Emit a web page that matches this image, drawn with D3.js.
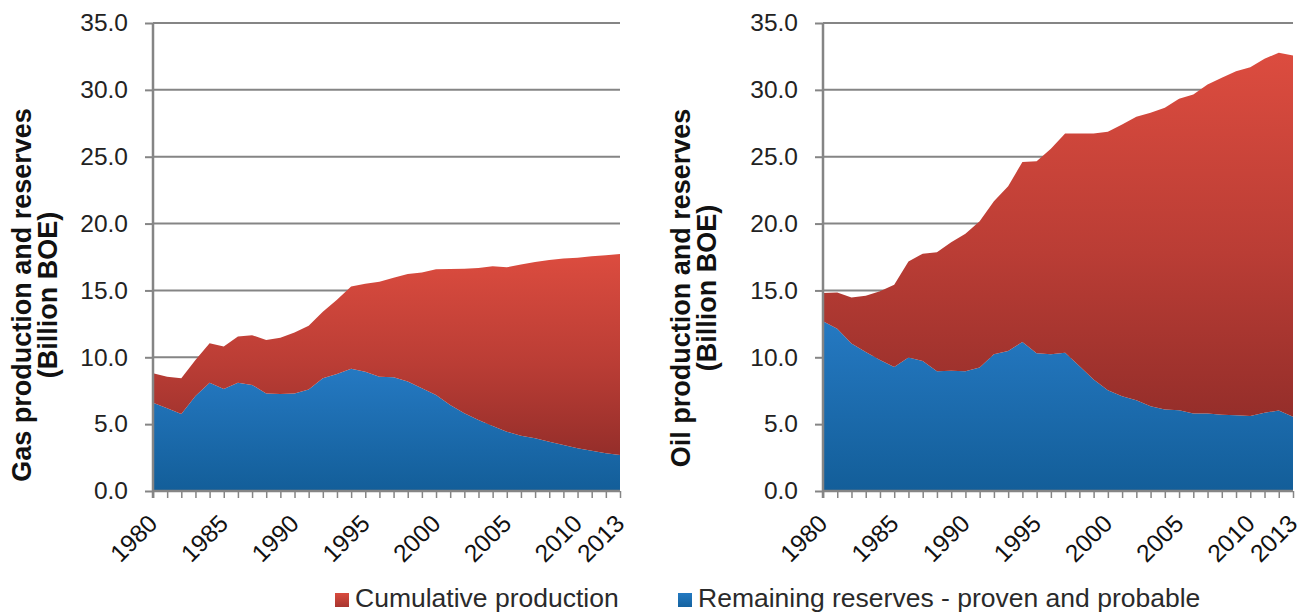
<!DOCTYPE html>
<html>
<head>
<meta charset="utf-8">
<script src="https://cdn.jsdelivr.net/npm/d3@7"></script>
<style>
  html, body { margin: 0; padding: 0; background: #fff; }
  svg { display: block; font-family: "Liberation Sans", Arial, sans-serif; }
</style>
</head>
<body>
<svg id="chart" width="1302" height="616"></svg>
<script>
// ---------- data ----------
const years = [1980,1981,1982,1983,1984,1985,1986,1987,1988,1989,1990,1991,1992,1993,1994,1995,1996,
               1997,1998,1999,2000,2001,2002,2003,2004,2005,2006,2007,2008,2009,2010,2011,2012,2013];
const yearLabels = [1980,1985,1990,1995,2000,2005,2010,2013];
const yTicks = [0,5,10,15,20,25,30,35];
const seriesNames = ["Remaining reserves - proven and probable", "Cumulative production"];
const legendOrder = ["Cumulative production", "Remaining reserves - proven and probable"];

const gasReserves = [6.60,6.18,5.76,7.10,8.10,7.63,8.10,7.93,7.30,7.25,7.30,7.60,8.43,8.75,9.15,8.92,8.55,
                     8.50,8.18,7.68,7.18,6.43,5.81,5.31,4.86,4.44,4.14,3.94,3.69,3.44,3.19,3.01,2.82,2.69];
const gasCumulative = [2.20,2.37,2.67,2.70,2.95,3.17,3.45,3.72,4.00,4.22,4.55,4.75,4.97,5.55,6.15,6.58,7.10,
                       7.45,8.05,8.67,9.40,10.17,10.82,11.37,11.94,12.29,12.79,13.19,13.59,13.94,14.26,14.54,14.81,15.04];

const oilReserves = [12.70,12.14,11.04,10.40,9.80,9.28,9.98,9.72,8.96,9.00,8.96,9.23,10.22,10.47,11.14,10.30,10.22,
                     10.34,9.34,8.34,7.54,7.09,6.79,6.34,6.10,6.04,5.80,5.80,5.70,5.67,5.60,5.85,6.02,5.55];
const oilCumulative = [2.10,2.71,3.44,4.20,5.13,6.15,7.19,8.03,8.89,9.60,10.27,10.94,11.45,12.33,13.46,14.37,15.38,
                       16.40,17.40,18.40,19.33,20.32,21.20,21.95,22.56,23.29,23.86,24.60,25.20,25.73,26.10,26.48,26.75,27.02];

// ---------- drawing ----------
const svg = d3.select("#chart");
const defs = svg.append("defs");

function grad(id, stops) {
  const g = defs.append("linearGradient").attr("id", id)
    .attr("x1", 0).attr("y1", 0).attr("x2", 0).attr("y2", 1);
  stops.forEach(s => g.append("stop").attr("offset", s[0]).attr("stop-color", s[1]));
}
grad("gRed", [[0, "#dc4c3f"], [0.55, "#ba3d35"], [1, "#952e2a"]]);
grad("gBlue", [[0, "#2579c2"], [1, "#135e99"]]);
grad("lRed", [[0, "#d94b3e"], [1, "#a8352f"]]);
grad("lBlue", [[0, "#2479c1"], [1, "#1563a0"]]);
const fills = {
  "Cumulative production": "url(#gRed)",
  "Remaining reserves - proven and probable": "url(#gBlue)"
};
const legendFills = {
  "Cumulative production": "url(#lRed)",
  "Remaining reserves - proven and probable": "url(#lBlue)"
};

const yTop = 23, yBot = 491;
const gridColor = "#858585";

function panel(x0, x1, reserves, cumulative, titleLines, titleX, titleY) {
  const x = d3.scaleLinear().domain([years[0], years[years.length - 1]]).range([x0, x1]);
  const y = d3.scaleLinear().domain([0, 35]).range([yBot, yTop]);
  const g = svg.append("g");

  // gridlines
  g.append("g").selectAll("line").data(yTicks.filter(t => t > 0)).join("line")
    .attr("x1", x0).attr("x2", x1)
    .attr("y1", d => y(d)).attr("y2", d => y(d))
    .attr("stroke", gridColor).attr("stroke-width", 2);

  // stacked areas
  const rows = years.map((yr, i) => ({
    year: yr,
    "Remaining reserves - proven and probable": reserves[i],
    "Cumulative production": cumulative[i]
  }));
  const stacked = d3.stack().keys(seriesNames)(rows);
  const area = d3.area()
    .x(d => x(d.data.year))
    .y0(d => y(d[0]))
    .y1(d => y(d[1]));
  g.append("g").selectAll("path").data(stacked).join("path")
    .attr("d", area)
    .attr("fill", d => fills[d.key]);

  // y axis
  const ya = g.append("g").attr("transform", `translate(${x0},0)`)
    .call(d3.axisLeft(y).tickValues(yTicks).tickFormat(d3.format(".1f")).tickSize(8).tickPadding(17));
  ya.select(".domain").attr("stroke", gridColor).attr("stroke-width", 2.5)
    .attr("d", `M0,${yTop}V${yBot + 7}`);
  ya.selectAll(".tick line").attr("stroke", gridColor).attr("stroke-width", 2);
  ya.selectAll(".tick text").attr("font-size", 24.5).attr("fill", "#222")
    .attr("font-family", "Liberation Sans, Arial, sans-serif");

  // x axis (ticks every year)
  const xa = g.append("g").attr("transform", `translate(0,${yBot})`)
    .call(d3.axisBottom(x).tickValues(years).tickSize(7).tickFormat(""));
  xa.select(".domain").attr("stroke", gridColor).attr("stroke-width", 2.5)
    .attr("d", `M${x0},0H${x1}`);
  xa.selectAll(".tick line").attr("stroke", gridColor).attr("stroke-width", 1.5);

  // x labels
  g.append("g").selectAll("text").data(yearLabels).join("text")
    .attr("transform", d => `translate(${x(d) + 6},${yBot + 34}) rotate(-45)`)
    .attr("text-anchor", "end")
    .attr("font-size", 24.5)
    .attr("fill", "#111")
    .text(d => d);

  // axis title
  const t = g.append("text")
    .attr("transform", `translate(${titleX},${titleY}) rotate(-90)`)
    .attr("text-anchor", "middle")
    .attr("font-size", 27)
    .attr("font-weight", "bold")
    .attr("fill", "#111");
  t.selectAll("tspan").data(titleLines).join("tspan")
    .attr("x", 0).attr("dy", (d, i) => i === 0 ? 0 : 26)
    .text(d => d);
}

panel(153, 620, gasReserves, gasCumulative,
      ["Gas production and reserves", "(Billion BOE)"], 31, 295);
panel(823, 1293, oilReserves, oilCumulative,
      ["Oil production and reserves", "(Billion BOE)"], 690, 288);

// legend
const legendPos = { "Cumulative production": 335, "Remaining reserves - proven and probable": 678 };
const lg = svg.append("g");
legendOrder.forEach(k => {
  const lx = legendPos[k];
  lg.append("rect").attr("x", lx).attr("y", 593).attr("width", 14).attr("height", 14)
    .attr("fill", legendFills[k]);
  lg.append("text").attr("x", lx + 20).attr("y", 607)
    .attr("font-size", 26.5).attr("fill", "#2a2a2a").text(k);
});
</script>
</body>
</html>
